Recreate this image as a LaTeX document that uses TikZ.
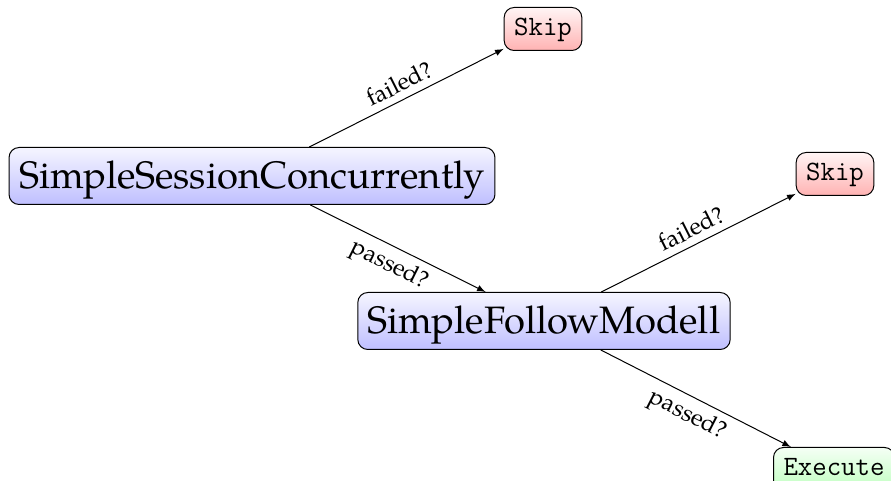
\documentclass[tikz,border=0pt]{standalone}
\usepackage{fontspec}
\setmainfont{TeX Gyre Pagella}
\usetikzlibrary{arrows}
\tikzset{
  box/.style={draw, line width=0.5pt, rounded corners=5pt, inner xsep=5pt, inner ysep=3pt},
  bigbox/.style={box, top color=blue!4, bottom color=blue!25, font=\fontsize{19.1}{23}\selectfont, text height=17.5pt, text depth=5pt},
  skipbox/.style={box, top color=red!4, bottom color=red!30, font=\fontsize{14}{16}\ttfamily, text height=11pt, text depth=4.5pt},
  execbox/.style={box, top color=green!4, bottom color=green!25, font=\fontsize{14}{16}\ttfamily, text height=11pt, text depth=4.5pt},
  conn/.style={-latex, line width=0.5pt},
  lbl/.style={font=\fontsize{12}{14}\selectfont, sloped, midway}
}
\begin{document}
\begin{tikzpicture}[x=0.5pt, y=-0.5pt]
\useasboundingbox (0,0) rectangle (891,481);
\node[bigbox] (ssc) at (252,176) {SimpleSessionConcurrently};
\node[skipbox] (skip1) at (543,29) {Skip};
\node[bigbox] (sfm) at (544,321) {SimpleFollowModell};
\node[skipbox] (skip2) at (835,174) {Skip};
\node[execbox] (exec) at (834,469) {Execute};
\draw[conn] (ssc) -- node[lbl, above] {failed?} (skip1);
\draw[conn] (ssc) -- node[lbl, below] {passed?} (sfm);
\draw[conn] (sfm) -- node[lbl, above] {failed?} (skip2);
\draw[conn] (sfm) -- node[lbl, below] {passed?} (exec);
\end{tikzpicture}
\end{document}
